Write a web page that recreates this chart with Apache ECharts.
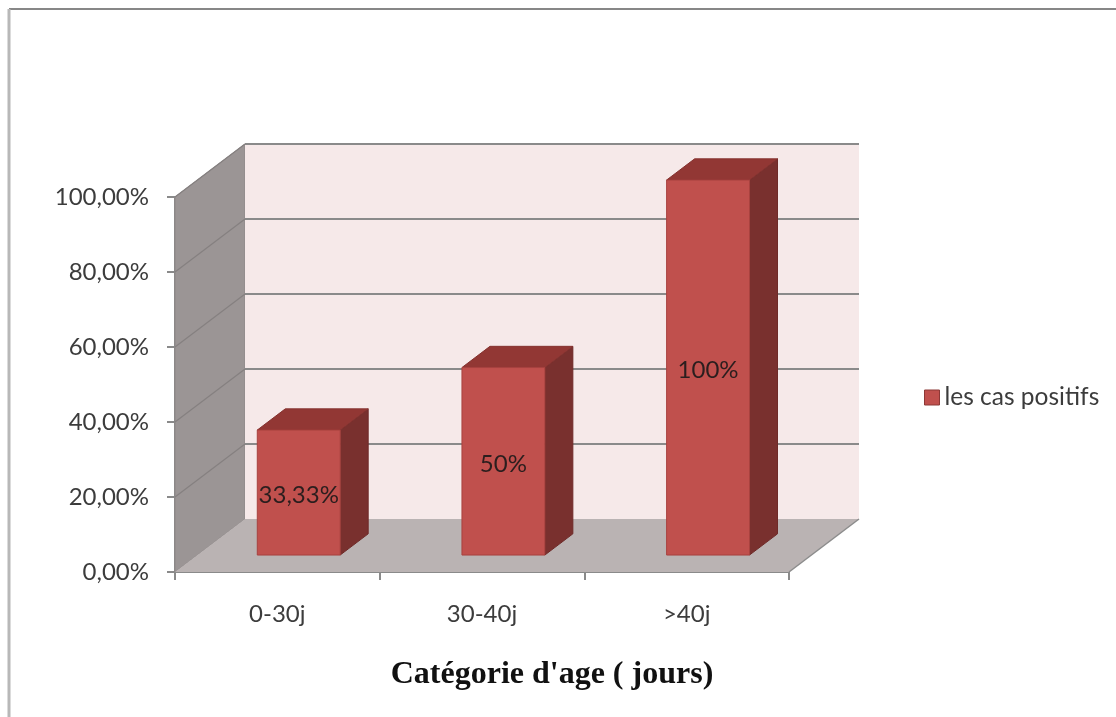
<!DOCTYPE html>
<html>
<head>
<meta charset="utf-8">
<title>Catégorie d'age ( jours)</title>
<script src="https://cdn.jsdelivr.net/npm/echarts@6/dist/echarts.min.js"></script>
<style>
  html, body { margin: 0; padding: 0; background: #ffffff; }
  #chart { width: 1116px; height: 717px; }
</style>
</head>
<body>
<div id="chart"></div>
<script>
// Share of positive cases per age group (percent)
const categories = ['0-30j', '30-40j', '>40j'];
const positiveRates = [33.33, 50, 100];
const seriesName = 'les cas positifs';
const yTicks = [0, 20, 40, 60, 80, 100];
const axisTitle = "Catégorie d'age ( jours)";

// Pseudo-3D box geometry (pixel depth of the plot box)
const DEPTH_X = 70;
const DEPTH_Y = 53;
const BAR_FRONT = 0.32;   // bar front face, fraction of box depth
const BAR_BACK = 0.72;    // bar back face, fraction of box depth
const BAR_WIDTH = 0.405;  // fraction of the category band

const FONT = 'Lato, "Liberation Sans", sans-serif';

// "33,33%" for fractional values, "50%" for whole ones
function valueText(v) {
  return (Number.isInteger(v) ? String(v) : v.toFixed(2).replace('.', ',')) + '%';
}
function tickText(v) {
  return v.toFixed(2).replace('.', ',') + '%';
}

const chart = echarts.init(document.getElementById('chart'));

// Walls, floor and wall gridlines of the 3D box
function renderBox(params, api) {
  const cs = params.coordSys;
  const x0 = cs.x, x1 = cs.x + cs.width;
  const yBase = api.coord([0, yTicks[0]])[1];
  const yTop = api.coord([0, yTicks[yTicks.length - 1]])[1];
  const children = [
    { type: 'polygon', shape: { points: [[x0, yTop], [x0 + DEPTH_X, yTop - DEPTH_Y], [x0 + DEPTH_X, yBase - DEPTH_Y], [x0, yBase]] },
      style: { fill: '#9b9595', stroke: '#8d8787', lineWidth: 1 } },
    { type: 'polygon', shape: { points: [[x0 + DEPTH_X, yTop - DEPTH_Y], [x1 + DEPTH_X, yTop - DEPTH_Y], [x1 + DEPTH_X, yBase - DEPTH_Y], [x0 + DEPTH_X, yBase - DEPTH_Y]] },
      style: { fill: '#f6e9e9' } },
    { type: 'polygon', shape: { points: [[x0, yBase], [x0 + DEPTH_X, yBase - DEPTH_Y], [x1 + DEPTH_X, yBase - DEPTH_Y], [x1, yBase]] },
      style: { fill: '#bab3b3' } },
    { type: 'line', shape: { x1: x1, y1: yBase, x2: x1 + DEPTH_X, y2: yBase - DEPTH_Y },
      style: { stroke: '#8c8c8c', lineWidth: 1.5 } }
  ];
  yTicks.slice(1).forEach(function (v) {
    const y = api.coord([0, v])[1];
    children.push({ type: 'line', shape: { x1: x0 + DEPTH_X, y1: y - DEPTH_Y, x2: x1 + DEPTH_X, y2: y - DEPTH_Y },
      style: { stroke: '#8a8a8a', lineWidth: 2 } });
    children.push({ type: 'line', shape: { x1: x0, y1: y, x2: x0 + DEPTH_X, y2: y - DEPTH_Y },
      style: { stroke: '#858080', lineWidth: 1.2 } });
  });
  return { type: 'group', children: children };
}

// One 3D column: front, top and side faces plus its value label
function renderBar(params, api) {
  const idx = api.value(0);
  const val = api.value(1);
  const base = api.coord([idx, 0]);
  const top = api.coord([idx, val]);
  const band = api.size([1, 0])[0];
  const w = band * BAR_WIDTH;
  const fx = BAR_FRONT * DEPTH_X, fy = BAR_FRONT * DEPTH_Y;
  const ddx = (BAR_BACK - BAR_FRONT) * DEPTH_X, ddy = (BAR_BACK - BAR_FRONT) * DEPTH_Y;
  const left = base[0] - w / 2 + fx - 1;
  const right = left + w;
  const yT = top[1] - fy, yB = base[1] - fy;
  return {
    type: 'group',
    children: [
      { type: 'polygon', shape: { points: [[right, yT], [right + ddx, yT - ddy], [right + ddx, yB - ddy], [right, yB]] },
        style: { fill: '#79302e', stroke: '#6e2a28', lineWidth: 1 } },
      { type: 'polygon', shape: { points: [[left, yT], [left + ddx, yT - ddy], [right + ddx, yT - ddy], [right, yT]] },
        style: { fill: '#923734', stroke: '#85322f', lineWidth: 1 } },
      { type: 'rect', shape: { x: left, y: yT, width: w, height: yB - yT },
        style: { fill: '#c0504d', stroke: '#a8423f', lineWidth: 1 } },
      { type: 'text', x: left + w / 2, y: (yT + yB) / 2 + 3,
        style: { text: valueText(val), fill: '#2b1e1e', font: '24px ' + FONT, textAlign: 'center', textVerticalAlign: 'middle' } }
    ]
  };
}

chart.setOption({
  animation: false,
  backgroundColor: '#ffffff',
  grid: { left: 175, right: 327, top: 197, bottom: 145, containLabel: false },
  legend: {
    data: [seriesName],
    left: 924, top: 385, padding: 0,
    icon: 'rect', itemWidth: 15, itemHeight: 15,
    itemStyle: { borderColor: '#8c3836', borderWidth: 1 },
    textStyle: { fontSize: 24.5, color: '#3c3c3c', fontFamily: FONT }
  },
  xAxis: {
    type: 'category',
    data: categories,
    boundaryGap: true,
    axisLine: { show: true, lineStyle: { color: '#8a8a8a', width: 2 } },
    axisTick: { show: true, length: 8, lineStyle: { color: '#8a8a8a', width: 2 } },
    axisLabel: { fontSize: 24, color: '#3c3c3c', fontFamily: FONT, margin: 30 },
    splitLine: { show: false }
  },
  yAxis: {
    type: 'value',
    min: yTicks[0], max: yTicks[yTicks.length - 1], interval: yTicks[1] - yTicks[0],
    axisLine: { show: true, lineStyle: { color: '#8a8a8a', width: 2 } },
    axisTick: { show: true, length: 8, lineStyle: { color: '#8a8a8a', width: 2 } },
    axisLabel: { fontSize: 24, color: '#3c3c3c', fontFamily: FONT, margin: 26, formatter: tickText },
    splitLine: { show: false }
  },
  graphic: [
    { type: 'line', shape: { x1: 9, y1: 9, x2: 1116, y2: 9 }, style: { stroke: '#878787', lineWidth: 2 }, silent: true },
    { type: 'line', shape: { x1: 9, y1: 9, x2: 9, y2: 717 }, style: { stroke: '#b8b8b8', lineWidth: 3 }, silent: true },
    { type: 'text', x: 552, y: 675,
      style: { text: axisTitle, font: 'bold 32px "Liberation Serif", "DejaVu Serif", serif', fill: '#111111', textAlign: 'center', textVerticalAlign: 'middle' } }
  ],
  series: [
    {
      type: 'custom', name: 'box', clip: false, z: 1, silent: true,
      data: [[0, 0]],
      renderItem: renderBox
    },
    {
      type: 'custom', name: seriesName, clip: false, z: 3,
      itemStyle: { color: '#c0504d' },
      data: categories.map(function (c, i) { return [i, positiveRates[i]]; }),
      renderItem: renderBar
    }
  ]
});
</script>
</body>
</html>
